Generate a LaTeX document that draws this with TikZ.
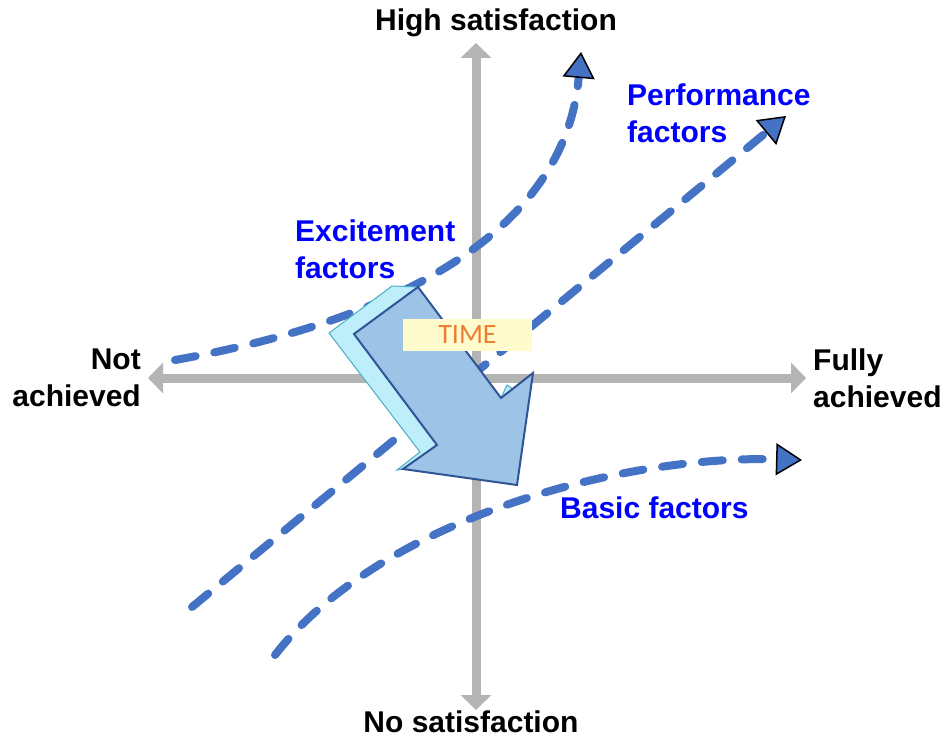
\documentclass[tikz,border=0pt]{standalone}
\usepackage{fontspec}
\setmainfont{Liberation Sans}
\newfontfamily\timefont{Carlito}
\usetikzlibrary{arrows.meta}
\definecolor{axisgray}{RGB}{180,180,180}
\definecolor{curveblue}{RGB}{68,114,196}
\definecolor{labelblue}{RGB}{0,0,255}
\definecolor{timefill}{RGB}{157,195,230}
\definecolor{timeline}{RGB}{47,85,151}
\definecolor{shadefill}{RGB}{189,238,250}
\definecolor{shadeline}{RGB}{75,172,198}
\definecolor{boxfill}{RGB}{255,251,204}
\definecolor{timetext}{RGB}{237,125,49}
\tikzstyle{axisline}=[line width=9pt,axisgray,{Triangle[length=15pt,width=30pt]}-{Triangle[length=15pt,width=30pt]}]
\tikzstyle{factorcurve}=[line width=8pt,curveblue,line cap=round,dash pattern=on 21pt off 19pt,-{Triangle[length=26pt,width=32pt,line width=1.5pt,color=black,fill=curveblue]}]
\tikzstyle{axislabel}=[font=\fontsize{30}{37}\selectfont\bfseries,inner sep=0pt]
\tikzstyle{factorlabel}=[axislabel,text=labelblue,align=left,anchor=west]

\begin{document}
\begin{tikzpicture}[x=1pt,y=-1pt]
\useasboundingbox (0,0) rectangle (944,738);
\coordinate (left) at (148,378);
\coordinate (right) at (806,378);
\coordinate (top) at (476,43);
\coordinate (bottom) at (476,710);
\draw[axisline] (left) -- (right);
\draw[axisline] (bottom) -- (top);
\coordinate (e0) at (175,360);
\coordinate (e1) at (581,52);
\coordinate (p0) at (192,607);
\coordinate (p1) at (786,116);
\coordinate (b0) at (275,655);
\coordinate (b1) at (802,460);
\draw[factorcurve] (e0) .. controls (400,320) and (565,230) .. (e1);
\draw[factorcurve] (p0) -- (p1);
\draw[factorcurve] (b0) .. controls (380,520) and (620,455) .. (b1);
\filldraw[fill=shadefill,draw=shadeline,line width=1pt] (392,286) -- (329,333) -- (420,452) -- (397,470) -- (403,469) -- (437,445) -- (354,334) -- (418,287) -- cycle;
\filldraw[fill=shadefill,draw=shadeline,line width=1pt] (501,398) -- (507,385) -- (513,389) -- cycle;
\filldraw[fill=timefill,draw=timeline,line width=2pt] (418,287) -- (354,334) -- (437,445) -- (403,469) -- (517,485) -- (533,373) -- (501,398) -- cycle;
\node[fill=boxfill,minimum width=129pt,minimum height=32pt,inner sep=0pt,text=timetext,font=\timefont\fontsize{28}{28}\selectfont] (time) at (467.5,335) {TIME};
\node[axislabel] (high) at (496,23) {High satisfaction};
\node[axislabel] (nosat) at (471,722) {No satisfaction};
\node[axislabel,anchor=east,align=right] (notach) at (141,378) {Not\\achieved};
\node[axislabel,anchor=west,align=left] (fully) at (813,378) {Fully\\achieved};
\node[factorlabel] (excite) at (295,249) {Excitement\\factors};
\node[factorlabel] (perf) at (627,113) {Performance\\factors};
\node[factorlabel] (basic) at (560,508) {Basic factors};
\end{tikzpicture}
\end{document}
